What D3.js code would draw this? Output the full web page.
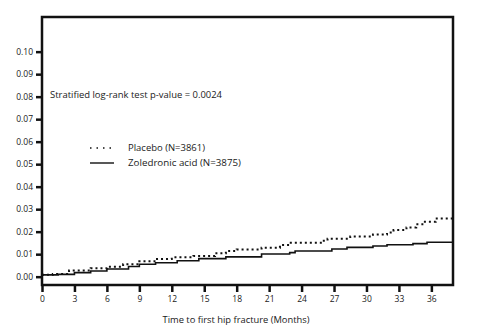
<!DOCTYPE html>
<html>
<head>
<meta charset="utf-8">
<script src="https://cdn.jsdelivr.net/npm/d3@7/dist/d3.min.js"></script>
<style>
  html, body { margin: 0; padding: 0; background: #fff; }
  svg { display: block; }
  text { font-family: "Open Sans", "Liberation Sans", sans-serif; fill: #1a1a1a; }
</style>
</head>
<body>
<svg id="chart" width="496" height="335"></svg>
<script>
// Cumulative incidence of first hip fracture (proportion) by month
const placeboMonths = [0, 1, 2.5, 4.5, 6, 7.5, 9, 10.5, 12, 14, 16, 17, 18, 20.3, 22, 23, 25.9, 26.4, 28.5, 30.6, 31.9, 32.5, 33.7, 34.6, 35.4, 36.4, 38];
const placeboRisk   = [0.0008, 0.0012, 0.0027, 0.0037, 0.0044, 0.0055, 0.0068, 0.0079, 0.0086, 0.0092, 0.0104, 0.0114, 0.0121, 0.0129, 0.0141, 0.0151, 0.0160, 0.0169, 0.0178, 0.0187, 0.0196, 0.0207, 0.0219, 0.0233, 0.0244, 0.0258, 0.0258];

const zoledMonths = [0, 1.5, 3, 4.5, 6, 8, 9, 10.5, 12.5, 14.5, 17, 20.3, 22.9, 23.4, 26.8, 28.2, 30.6, 31.9, 34.3, 35.6, 38];
const zoledRisk   = [0.0008, 0.0010, 0.0018, 0.0025, 0.0034, 0.0045, 0.0055, 0.0062, 0.0071, 0.0080, 0.0088, 0.0101, 0.0107, 0.0114, 0.0123, 0.0130, 0.0136, 0.0142, 0.0147, 0.0153, 0.0153];

const xTicks = [0, 3, 6, 9, 12, 15, 18, 21, 24, 27, 30, 33, 36];
const yTicks = [0, 0.01, 0.02, 0.03, 0.04, 0.05, 0.06, 0.07, 0.08, 0.09, 0.10];

const svg = d3.select("#chart");
const x = d3.scaleLinear().domain([0, 38]).range([42, 453]);
const y = d3.scaleLinear().domain([-0.0037, 0.1154]).range([285, 17]);

// frame
svg.append("rect")
  .attr("x", x(0)).attr("y", y(0.1154))
  .attr("width", x(38) - x(0)).attr("height", y(-0.0037) - y(0.1154))
  .attr("fill", "none").attr("stroke", "#111").attr("stroke-width", 2.5);

// axes
const yAxis = d3.axisLeft(y).tickValues(yTicks).tickFormat(d3.format(".2f"))
  .tickSize(6).tickPadding(3);
const gy = svg.append("g").attr("transform", `translate(${x(0)},0)`).call(yAxis);
gy.select(".domain").remove();
gy.selectAll(".tick line").attr("stroke", "#111").attr("stroke-width", 2.5);
gy.selectAll(".tick text").attr("font-size", 8.5).style("fill", "#1a1a1a");

const xAxis = d3.axisBottom(x).tickValues(xTicks).tickFormat(d3.format("d"))
  .tickSize(7).tickPadding(4);
const gx = svg.append("g").attr("transform", `translate(0,${y(-0.0037)})`).call(xAxis);
gx.select(".domain").remove();
gx.selectAll(".tick line").attr("stroke", "#111").attr("stroke-width", 2.5);
gx.selectAll(".tick text").attr("font-size", 8.5).style("fill", "#1a1a1a");

svg.append("text").attr("x", 236).attr("y", 323).attr("text-anchor", "middle")
  .attr("font-size", 9).attr("textLength", 147).attr("lengthAdjust", "spacingAndGlyphs")
  .text("Time to first hip fracture (Months)");

// curves
const line = d3.line().curve(d3.curveStepAfter).x(d => x(d[0])).y(d => y(d[1]));
svg.append("path")
  .datum(zoledMonths.map((m, i) => [m, zoledRisk[i]]))
  .attr("d", line).attr("fill", "none").attr("stroke", "#111").attr("stroke-width", 1.6);
svg.append("path")
  .datum(placeboMonths.map((m, i) => [m, placeboRisk[i]]))
  .attr("d", line).attr("fill", "none").attr("stroke", "#111").attr("stroke-width", 2)
  .attr("stroke-dasharray", "2,3");

// annotation
svg.append("text").attr("x", 50).attr("y", 98).attr("font-size", 9)
  .attr("textLength", 172).attr("lengthAdjust", "spacingAndGlyphs")
  .text("Stratified log-rank test p-value = 0.0024");

// legend
const legend = [
  { label: "Placebo (N=3861)", dash: "1.5,5", width: 1.5, len: 77 },
  { label: "Zoledronic acid (N=3875)", dash: null, width: 1.4, len: 113 }
];
legend.forEach((d, i) => {
  const ly = 148 + i * 15;
  svg.append("line").attr("x1", 90).attr("x2", 114).attr("y1", ly).attr("y2", ly)
    .attr("stroke", "#111").attr("stroke-width", d.width)
    .attr("stroke-dasharray", d.dash);
  svg.append("text").attr("x", 128).attr("y", ly + 3).attr("font-size", 9.5)
    .attr("textLength", d.len).attr("lengthAdjust", "spacingAndGlyphs")
    .text(d.label);
});
</script>
</body>
</html>
